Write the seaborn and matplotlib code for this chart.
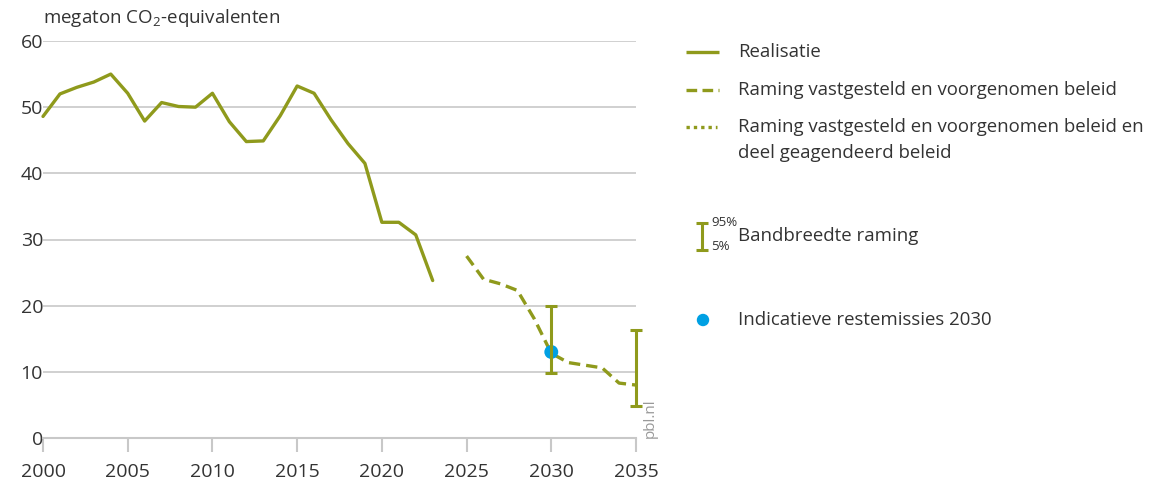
import numpy as np
import pandas as pd
import matplotlib
matplotlib.use("Agg")
import matplotlib.pyplot as plt
import seaborn as sns

# data
jaren_real = [2000, 2001, 2002, 2003, 2004, 2005, 2006, 2007, 2008, 2009, 2010, 2011,
              2012, 2013, 2014, 2015, 2016, 2017, 2018, 2019, 2020, 2021, 2022, 2023]
realisatie = [48.6, 52.0, 53.0, 53.8, 55.0, 52.1, 47.9, 50.7, 50.1, 50.0, 52.1, 47.8,
              44.8, 44.9, 48.7, 53.2, 52.1, 48.1, 44.5, 41.5, 32.6, 32.6, 30.7, 23.8]
jaren_raming = [2025, 2026, 2027, 2028, 2029, 2030, 2031, 2032, 2033, 2034, 2035]
raming = [27.5, 24.0, 23.3, 22.3, 18.0, 12.8, 11.4, 11.0, 10.6, 8.3, 8.0]
band_jaren = [2030, 2035]
band_laag = [9.8, 4.8]
band_hoog = [20.0, 16.3]
rest_jaar = [2030]
rest_waarde = [13.0]

OLIJF = "#8f9a1c"
BLAUW = "#00a0e3"
GRIJS = "#c8c8c8"
TEKST = "#333333"

sns.set_style("white")
plt.rcParams["font.family"] = ["Open Sans", "DejaVu Sans"]
plt.rcParams["mathtext.fontset"] = "custom"
plt.rcParams["mathtext.rm"] = "Open Sans"

fig = plt.figure(figsize=(11.58, 4.84), dpi=100)
W, H = 1158, 484
ax = fig.add_axes([43 / W, 1 - 438 / H, (636 - 43) / W, (438 - 41) / H])

df_real = pd.DataFrame({"jaar": jaren_real, "waarde": realisatie})
df_ram = pd.DataFrame({"jaar": jaren_raming, "waarde": raming})

sns.lineplot(data=df_real, x="jaar", y="waarde", ax=ax, color=OLIJF, lw=2.4,
             clip_on=False, zorder=3)
sns.lineplot(data=df_ram, x="jaar", y="waarde", ax=ax, color=OLIJF, lw=2.4,
             dashes=False, clip_on=False, zorder=3)
ax.lines[-1].set_dashes((3.4, 1.8))

ax.scatter(rest_jaar, rest_waarde, s=100, color=BLAUW, zorder=4, clip_on=False,
           edgecolor="none")
mid = [(l + h) / 2 for l, h in zip(band_laag, band_hoog)]
err = [[m - l for m, l in zip(mid, band_laag)], [h - m for h, m in zip(band_hoog, mid)]]
ax.errorbar(band_jaren, mid, yerr=err, fmt="none", ecolor=OLIJF, elinewidth=2.2,
            capsize=4.5, capthick=2.2, zorder=5, clip_on=False)

ax.set_xlim(2000, 2035)
ax.set_ylim(0, 60)
ax.set_xticks(range(2000, 2036, 5))
ax.set_yticks(range(0, 61, 10))
ax.set_xlabel("")
ax.set_ylabel("")
ax.grid(axis="y", color=GRIJS, lw=1.2)
ax.grid(axis="x", visible=False)
for s in ["left", "right", "top"]:
    ax.spines[s].set_visible(False)
ax.spines["bottom"].set_color(GRIJS)
ax.spines["bottom"].set_linewidth(1.5)
ax.tick_params(axis="x", length=10, width=1.5, color=GRIJS, pad=8,
               labelsize=14, labelcolor=TEKST, bottom=True)
ax.tick_params(axis="y", length=0, pad=0, labelsize=14, labelcolor=TEKST)

fig.text(43 / W, 1 - 18 / H, "megaton CO$_2$-equivalenten", fontsize=13.5,
         color=TEKST, va="center", ha="left")
ax.text(1.012, 0.0, "pbl.nl", transform=ax.transAxes, rotation=90, fontsize=11,
        color="#999999", ha="left", va="bottom")

# legenda
lg = fig.add_axes([0, 0, 1, 1])
lg.set_xlim(0, W)
lg.set_ylim(H, 0)
lg.axis("off")
fs = 13.4
lg.plot([686, 719], [52, 52], color=OLIJF, lw=2.4, solid_capstyle="butt")
lg.text(738, 52, "Realisatie", fontsize=fs, color=TEKST, va="center")
l2, = lg.plot([686, 719], [90, 90], color=OLIJF, lw=2.4, solid_capstyle="butt")
l2.set_dashes((3.2, 1.6))
lg.text(738, 90, "Raming vastgesteld en voorgenomen beleid", fontsize=fs,
        color=TEKST, va="center")
l3, = lg.plot([686, 717], [127, 127], color=OLIJF, lw=2.4, dash_capstyle="butt")
l3.set_dashes((1, 1.2))
lg.text(738, 127, "Raming vastgesteld en voorgenomen beleid en", fontsize=fs,
        color=TEKST, va="center")
lg.text(738, 153, "deel geagendeerd beleid", fontsize=fs, color=TEKST, va="center")
lg.errorbar([702], [236.5], yerr=[[13.5], [13.5]], fmt="none", ecolor=OLIJF,
            elinewidth=2.2, capsize=4, capthick=2.2)
lg.text(711, 223, "95%", fontsize=9.5, color=TEKST, va="center")
lg.text(711, 247, "5%", fontsize=9.5, color=TEKST, va="center")
lg.text(738, 236, "Bandbreedte raming", fontsize=fs, color=TEKST, va="center")
lg.scatter([703], [320], s=80, color=BLAUW, edgecolor="none")
lg.text(738, 320, "Indicatieve restemissies 2030", fontsize=fs, color=TEKST,
        va="center")

fig.savefig("out.png", dpi=100)
